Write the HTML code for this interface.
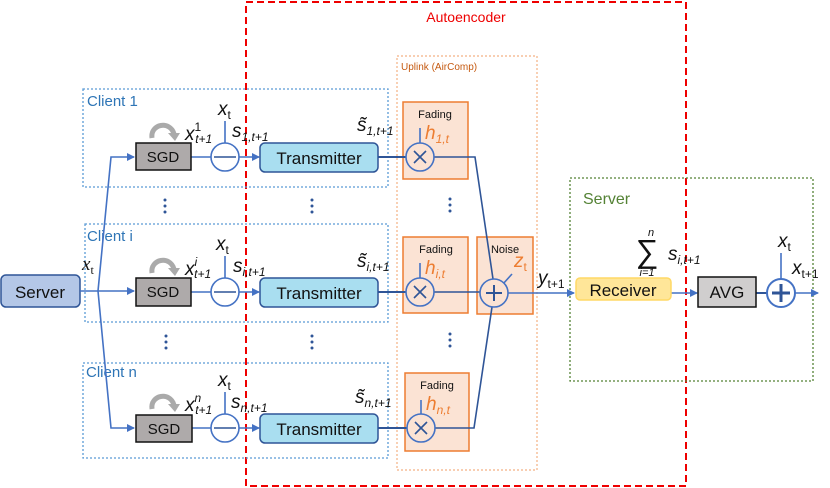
<!DOCTYPE html>
<html><head><meta charset="utf-8"><style>
body{margin:0;background:#fff}
svg{display:block}
text{font-family:"Liberation Sans",sans-serif}
.m{font-family:"Liberation Serif",serif;font-style:italic;font-size:19px;fill:#111}
.s{font-size:12px}
</style></head><body>
<svg width="830" height="488" viewBox="0 0 830 488" xmlns="http://www.w3.org/2000/svg">
<defs>
<marker id="a" markerWidth="8" markerHeight="8" refX="7" refY="4" orient="auto" markerUnits="userSpaceOnUse"><path d="M0,0 L8,4 L0,8 z" fill="#4472c4"/></marker>
</defs>
<rect x="246" y="2" width="440" height="484" fill="none" stroke="#e00" stroke-width="2" stroke-dasharray="7,4"/>
<text x="466" y="22" font-size="14" fill="#e00" text-anchor="middle">Autoencoder</text>
<rect x="397" y="56" width="140" height="414" fill="none" stroke="#f4b183" stroke-width="1.2" stroke-dasharray="2,2"/>
<text x="401" y="70" font-size="10" fill="#c55a11">Uplink (AirComp)</text>
<rect x="570" y="178" width="243" height="203" fill="none" stroke="#548235" stroke-width="1.3" stroke-dasharray="2,2"/>
<text x="583" y="204" font-size="16" fill="#548235">Server</text>
<g fill="none" stroke="#5b9bd5" stroke-width="1.3" stroke-dasharray="2,2">
<rect x="83" y="89" width="305" height="98"/>
<rect x="85" y="224" width="303" height="98"/>
<rect x="83" y="363" width="305" height="95"/>
</g>
<g font-size="15" fill="#2e75b6">
<text x="87" y="106">Client 1</text>
<text x="87" y="241">Client i</text>
<text x="86" y="377">Client n</text>
</g>
<g fill="#fbe3d4" stroke="#ed7d31" stroke-width="1.5">
<rect x="403" y="102" width="65" height="77"/>
<rect x="403" y="237" width="65" height="76"/>
<rect x="405" y="373" width="64" height="78"/>
<rect x="477" y="237" width="56" height="77"/>
</g>
<g font-size="11" fill="#111" text-anchor="middle">
<text x="435" y="118">Fading</text>
<text x="436" y="253">Fading</text>
<text x="437" y="389">Fading</text>
<text x="505" y="253">Noise</text>
</g>
<rect x="1" y="275" width="79" height="32" rx="5" fill="#b4c7e7" stroke="#2f5597" stroke-width="1.5"/>
<text x="40" y="298" font-size="17" text-anchor="middle" fill="#111">Server</text>
<g fill="none" stroke="#4472c4" stroke-width="1.6">
<polyline points="80,291 134,291" marker-end="url(#a)"/>
<polyline points="98,291 111,157 134,157" marker-end="url(#a)"/>
<polyline points="98,291 111,428 134,428" marker-end="url(#a)"/>
</g>
<text class="m" x="82" y="270">x<tspan class="s" font-style="normal" dy="4">t</tspan></text>
<g stroke="#4472c4" stroke-width="1.6" fill="none">
<line x1="191" y1="157" x2="211" y2="157"/><line x1="239" y1="157" x2="259" y2="157" marker-end="url(#a)"/>
<line x1="191" y1="292" x2="211" y2="292"/><line x1="239" y1="292" x2="259" y2="292" marker-end="url(#a)"/>
<line x1="191" y1="428" x2="211" y2="428"/><line x1="239" y1="428" x2="259" y2="428" marker-end="url(#a)"/>
<line x1="225" y1="143" x2="225" y2="121"/><line x1="225" y1="278" x2="225" y2="256"/><line x1="225" y1="414" x2="225" y2="392"/>
<circle cx="225" cy="157" r="14" fill="#fff"/>
<circle cx="225" cy="292" r="14" fill="#fff"/>
<circle cx="225" cy="428" r="14" fill="#fff"/>
<line x1="214" y1="157" x2="236" y2="157" stroke="#2f5597"/>
<line x1="214" y1="292" x2="236" y2="292" stroke="#2f5597"/>
<line x1="214" y1="428" x2="236" y2="428" stroke="#2f5597"/>
<line x1="378" y1="157" x2="406" y2="157" stroke="#2f5597" stroke-width="2"/>
<line x1="378" y1="292" x2="406" y2="292" stroke="#2f5597" stroke-width="2"/>
<line x1="378" y1="428" x2="407" y2="428" stroke="#2f5597" stroke-width="2"/>
<polyline points="434,157 475,157 493,279" stroke="#2f5597"/>
<line x1="434" y1="292" x2="480" y2="292" stroke="#2f5597"/>
<polyline points="435,428 474,428 492,307" stroke="#2f5597"/>
<line x1="420" y1="143" x2="420" y2="128"/>
<line x1="420" y1="278" x2="420" y2="263"/>
<line x1="421" y1="414" x2="421" y2="400"/>
<line x1="503" y1="284" x2="512" y2="274"/>
<circle cx="420" cy="157" r="14" fill="#fbe3d4"/>
<circle cx="420" cy="292" r="14" fill="#fbe3d4"/>
<circle cx="421" cy="428" r="14" fill="#fbe3d4"/>
<path d="M414,151 l12,12 M426,151 l-12,12 M414,286 l12,12 M426,286 l-12,12 M415,422 l12,12 M427,422 l-12,12" stroke="#2f5597"/>
<circle cx="494" cy="293" r="14" fill="#fbe3d4"/>
<path d="M494,285 v16 M486,293 h16" stroke="#2f5597" stroke-width="2"/>
<line x1="508" y1="293" x2="574" y2="293" marker-end="url(#a)"/>
<line x1="671" y1="293" x2="697" y2="293" marker-end="url(#a)"/>
<line x1="756" y1="293" x2="767" y2="293" stroke="#2f5597" stroke-width="2"/>
<line x1="781" y1="279" x2="781" y2="253"/>
<line x1="795" y1="293" x2="818" y2="293" marker-end="url(#a)"/>
<circle cx="781" cy="293" r="14" fill="#fff" stroke-width="2"/>
<path d="M781,284 v18 M772,293 h18" stroke="#2f5597" stroke-width="3"/>
</g>
<g fill="#aeaaaa" stroke="#111" stroke-width="1.5">
<rect x="136" y="143" width="55" height="27"/>
<rect x="136" y="278" width="55" height="28"/>
<rect x="136" y="415" width="56" height="27"/>
</g>
<g font-size="15" text-anchor="middle" fill="#111">
<text x="163" y="162">SGD</text><text x="163" y="297">SGD</text><text x="164" y="434">SGD</text>
</g>
<g fill="none" stroke="#aaa" stroke-width="5">
<path d="M152,138 C150,124 170,120 174,134"/>
<path d="M152,273 C150,259 170,255 174,269"/>
<path d="M152,409 C150,395 170,391 174,405"/>
</g>
<g fill="#aaa"><path d="M168,133 l12,0 l-5,8z"/><path d="M168,268 l12,0 l-5,8z"/><path d="M168,404 l12,0 l-5,8z"/></g>
<g fill="#a9def0" stroke="#2f5597" stroke-width="1.5">
<rect x="260" y="143" width="118" height="29" rx="5"/>
<rect x="260" y="278" width="118" height="29" rx="5"/>
<rect x="260" y="414" width="118" height="29" rx="5"/>
</g>
<g font-size="17" text-anchor="middle" fill="#111">
<text x="319" y="164">Transmitter</text><text x="319" y="299">Transmitter</text><text x="319" y="435">Transmitter</text>
</g>
<rect x="576" y="278" width="95" height="22" rx="4" fill="#ffe699" stroke="#ffd966" stroke-width="1.5"/>
<text x="623" y="296" font-size="17" text-anchor="middle" fill="#111">Receiver</text>
<rect x="698" y="277" width="58" height="30" fill="#d0cece" stroke="#111" stroke-width="1.5"/>
<text x="727" y="298" font-size="17" text-anchor="middle" fill="#111">AVG</text>
<g fill="#2f5597">
<circle cx="165" cy="200" r="1.5"/><circle cx="165" cy="206" r="1.5"/><circle cx="165" cy="212" r="1.5"/>
<circle cx="312" cy="200" r="1.5"/><circle cx="312" cy="206" r="1.5"/><circle cx="312" cy="212" r="1.5"/>
<circle cx="450" cy="199" r="1.5"/><circle cx="450" cy="205" r="1.5"/><circle cx="450" cy="211" r="1.5"/>
<circle cx="166" cy="336" r="1.5"/><circle cx="166" cy="342" r="1.5"/><circle cx="166" cy="348" r="1.5"/>
<circle cx="312" cy="336" r="1.5"/><circle cx="312" cy="342" r="1.5"/><circle cx="312" cy="348" r="1.5"/>
<circle cx="450" cy="334" r="1.5"/><circle cx="450" cy="340" r="1.5"/><circle cx="450" cy="346" r="1.5"/>
</g>
<g class="m">
<text x="218" y="115">x<tspan class="s" font-style="normal" dy="4">t</tspan></text>
<text x="216" y="250">x<tspan class="s" font-style="normal" dy="4">t</tspan></text>
<text x="218" y="386">x<tspan class="s" font-style="normal" dy="4">t</tspan></text>
<text x="185" y="140">x<tspan class="s" dy="-9" font-style="normal">1</tspan><tspan class="s" dx="-6" dy="12">t+1</tspan></text>
<text x="185" y="275">x<tspan class="s" dy="-9">i</tspan><tspan class="s" dx="-3" dy="12">t+1</tspan></text>
<text x="185" y="411">x<tspan class="s" dy="-9">n</tspan><tspan class="s" dx="-6" dy="12">t+1</tspan></text>
<text x="232" y="137">s<tspan class="s" dy="4">1,t+1</tspan></text>
<text x="233" y="272">s<tspan class="s" dy="4">i,t+1</tspan></text>
<text x="231" y="408">s<tspan class="s" dy="4">n,t+1</tspan></text>
<text x="357" y="131">s̃<tspan class="s" dy="4">1,t+1</tspan></text>
<text x="357" y="267">s̃<tspan class="s" dy="4">i,t+1</tspan></text>
<text x="355" y="403">s̃<tspan class="s" dy="4">n,t+1</tspan></text>
<text x="538" y="284">y<tspan class="s" font-style="normal" dy="4">t+1</tspan></text>
<text x="778" y="247">x<tspan class="s" font-style="normal" dy="4">t</tspan></text>
<text x="792" y="274">x<tspan class="s" font-style="normal" dy="4">t+1</tspan></text>
<text x="668" y="260">s<tspan class="s" dy="4">i,t+1</tspan></text>
</g>
<g class="m">
<text x="425" y="139" fill="#ed7d31">h<tspan class="s" dy="4">1,t</tspan></text>
<text x="425" y="274" fill="#ed7d31">h<tspan class="s" dy="4">i,t</tspan></text>
<text x="426" y="410" fill="#ed7d31">h<tspan class="s" dy="4">n,t</tspan></text>
<text x="514" y="267" fill="#ed7d31">z<tspan class="s" font-style="normal" dy="4">t</tspan></text>
</g>
<text x="647" y="262" font-size="32" font-family="Liberation Serif" text-anchor="middle" fill="#111">∑</text>
<text x="651" y="236" font-size="11" font-family="Liberation Serif" font-style="italic" text-anchor="middle" fill="#111">n</text>
<text x="647" y="276" font-size="11" font-family="Liberation Serif" font-style="italic" text-anchor="middle" fill="#111">i=1</text>
</svg>
</body></html>
